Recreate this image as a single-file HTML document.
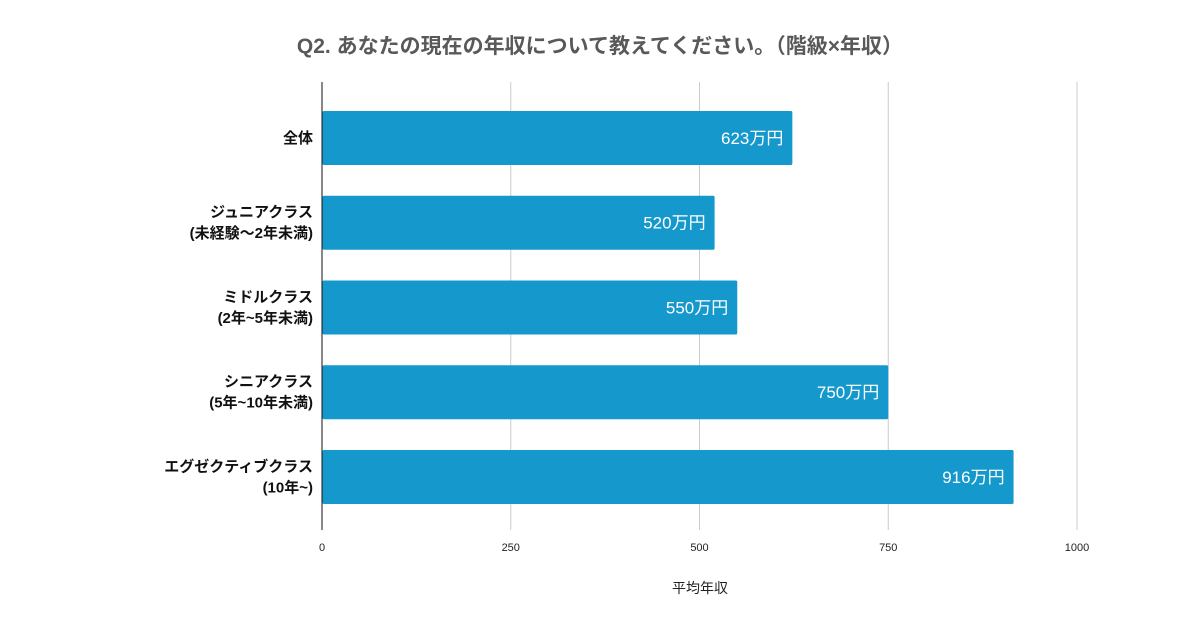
<!DOCTYPE html>
<html><head><meta charset="utf-8">
<style>
html,body{margin:0;padding:0;background:#fff;}
svg{display:block;font-family:"Liberation Sans","Noto Sans CJK JP",sans-serif;}
</style></head>
<body>
<svg id="chart" width="1200" height="630">
<text x="600" y="53" text-anchor="middle" font-size="21" font-weight="bold" fill="#595959">Q2. あなたの現在の年収について教えてください。（階級×年収）</text>
<g id="grid"></g>
<g id="bars"></g>
<g id="ylabels"></g>
<g id="xticks"></g>
<text x="700" y="593" text-anchor="middle" font-size="14" fill="#222">平均年収</text>
</svg>
<script>
const categories = [["全体"],["ジュニアクラス","(未経験～2年未満)"],["ミドルクラス","(2年~5年未満)"],["シニアクラス","(5年~10年未満)"],["エグゼクティブクラス","(10年~)"]];
const values = [623,520,550,750,916];
const valueLabels = ["623万円","520万円","550万円","750万円","916万円"];
const ticks = [0,250,500,750,1000];

const NS="http://www.w3.org/2000/svg";
const x0=322, x1=1077, xmax=1000;
const xs=v=>x0+(v/xmax)*(x1-x0);
const top0=95.6, band=84.75, barH=54;
const yc=i=>top0+band*(i+0.5);
function mk(tag,attrs,parent){const e=document.createElementNS(NS,tag);for(const k in attrs)e.setAttribute(k,attrs[k]);parent.appendChild(e);return e;}
const grid=document.getElementById('grid'),bars=document.getElementById('bars'),yl=document.getElementById('ylabels'),xt=document.getElementById('xticks');
ticks.forEach((t,i)=>{
  const l=mk('line',{x1:xs(t),x2:xs(t),y1:82,y2:530,stroke:i===0?'#111':'#ccc','stroke-width':1},grid);
  
  
  const tx=mk('text',{x:xs(t),y:551,'text-anchor':'middle','font-size':11,fill:'#222'},xt);
  tx.textContent=t;
  
  
});
values.forEach((v,i)=>{
  const r=mk('rect',{x:x0+0.5,y:yc(i)-barH/2,width:xs(v)-x0-0.5,height:barH,rx:1.5,fill:'#1598cb'},bars);
  
  
  const t=mk('text',{x:xs(v)-9,y:yc(i)+6,'text-anchor':'end','font-size':17,fill:'#fff'},bars);
  t.textContent=valueLabels[i];
  
  
  const lines=categories[i];
  lines.forEach((s,j)=>{
    const off=(j-(lines.length-1)/2)*21+5;
    const c=mk('text',{x:313,y:yc(i)+off,'text-anchor':'end','font-size':15,'font-weight':'bold',fill:'#111'},yl);
    c.textContent=s;
    
    
  });
});
</script>
</body></html>
